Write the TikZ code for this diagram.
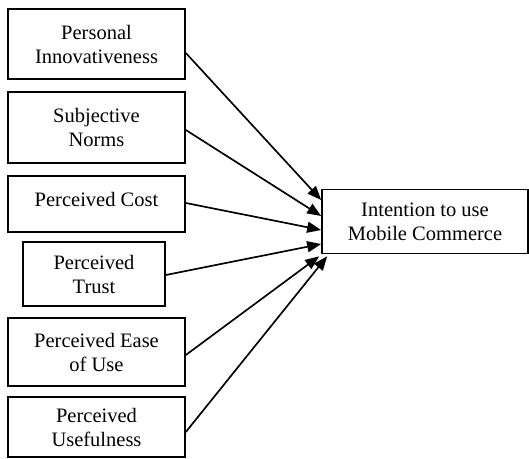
\documentclass[tikz,border=0pt]{standalone}
\usepackage{fontspec}
\setmainfont{Liberation Serif}
\usetikzlibrary{arrows.meta}

\begin{document}
\begin{tikzpicture}[x=0.6pt,y=-0.6pt,
  factor/.style={draw,line width=1pt,minimum width=106.2pt,align=center,inner sep=2pt,
    font=\fontsize{12.3}{14.4}\selectfont},
  link/.style={line width=1pt,-{Triangle[length=8.4pt,width=6.6pt]}}]
  \useasboundingbox (0,0) rectangle (529,459);
  % antecedents
  \node[factor,minimum height=42pt]   (innov) at (96.5,44)  {Personal\\Innovativeness};
  \node[factor,minimum height=42.6pt] (norms) at (96.5,127.5) {Subjective\\Norms};
  \node[factor,minimum height=33.6pt,text depth=6pt] (cost) at (96.5,204) {Perceived Cost};
  \node[factor,minimum width=85.2pt,minimum height=38.4pt] (trust) at (94,274) {Perceived\\Trust};
  \node[factor,minimum height=40.8pt] (ease)  at (96.5,352) {Perceived Ease\\of Use};
  \node[factor,minimum height=36pt]   (useful) at (96.5,427) {Perceived\\Usefulness};
  % outcome
  \node[factor,minimum width=123.6pt,minimum height=38.4pt] (intent) at (425,221.5)
    {Intention to use\\Mobile Commerce};
  % paths
  \foreach \src/\sy/\dy in {innov/-5.4pt/12.9pt, norms/-1.5pt/3.3pt, cost/0.6pt/-5.1pt, trust/-0.6pt/-13.5pt}
    \draw[link] ([yshift=\sy]\src.east) -- ([yshift=\dy]intent.west);
  \draw[link] ([yshift=-1.8pt]ease.east) -- ([shift={(-1.2pt,-1.2pt)}]intent.south west);
  \draw[link] ([yshift=-3pt]useful.east) -- ([shift={(3.6pt,-1.2pt)}]intent.south west);
\end{tikzpicture}
\end{document}
